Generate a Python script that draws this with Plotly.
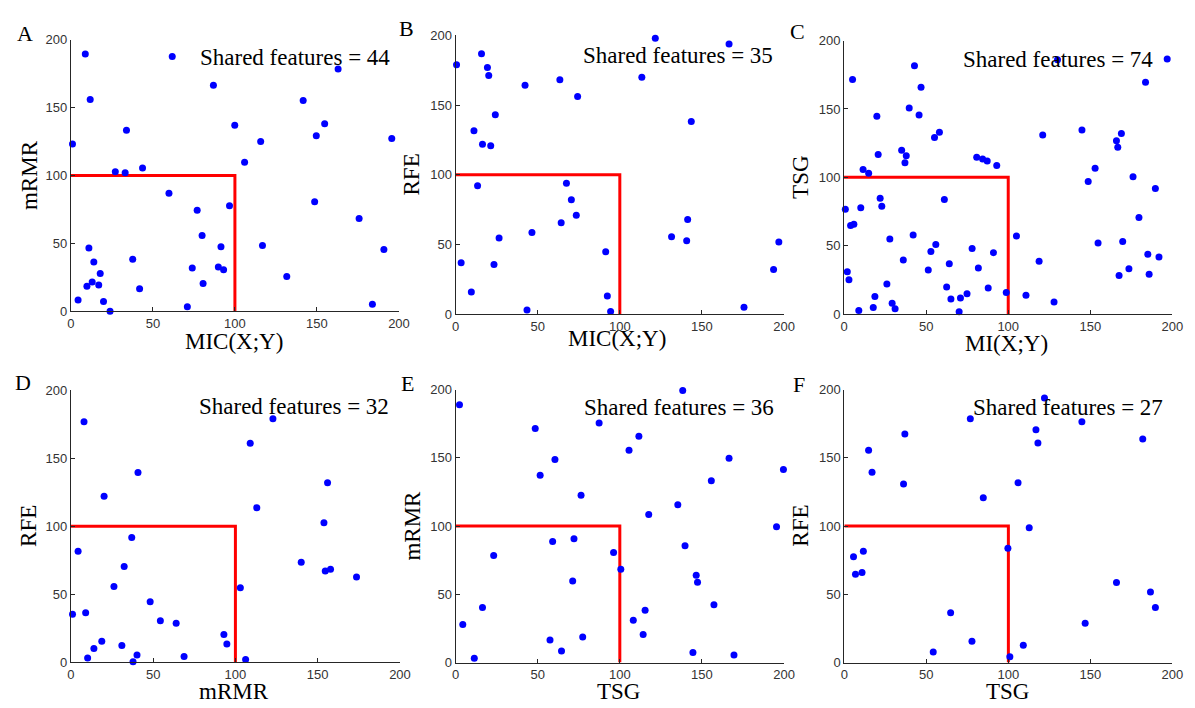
import plotly.graph_objects as go

W, H = 1195, 708

# ---------------- data (feature rank positions) ----------------
# Panel A: MIC(X;Y) vs mRMR
a_x = [8.8, 61.8, 162.9, 11.8, 86.9, 141.6, 154.7, 33.9, 99.9, 149.6, 115.7, 195.6, 1.0, 105.9,
       27.1, 33.1, 43.7, 59.8, 96.7, 77.0, 148.6, 175.7, 80.0, 116.8, 91.5, 11.0, 190.8, 14.0,
       37.7, 17.9, 74.0, 89.9, 93.1, 131.6, 13.0, 9.8, 17.0, 41.9, 80.6, 4.4, 19.9, 23.9, 71.0, 183.8]
a_y = [189.4, 187.5, 178.4, 156.0, 166.4, 155.1, 138.0, 133.3, 136.9, 129.2, 125.1, 127.3, 123.2, 109.7,
       102.8, 102.0, 105.6, 86.9, 77.8, 74.4, 80.7, 68.4, 55.9, 48.5, 47.5, 46.6, 45.6, 36.3,
       38.4, 27.9, 31.9, 32.7, 30.7, 25.7, 21.6, 18.5, 19.4, 16.6, 20.6, 8.4, 7.2, 0.2, 3.4, 5.3]

# Panel B: MIC(X;Y) vs RFE
b_x = [0.6, 15.8, 19.4, 20.2, 121.6, 166.5, 42.3, 63.5, 113.4, 74.3, 24.2, 143.5, 11.2, 16.4,
       21.4, 13.4, 67.5, 70.5, 73.5, 64.3, 141.3, 131.5, 140.7, 196.8, 26.5, 46.5, 91.4, 3.4,
       23.4, 193.6, 9.6, 92.4, 175.6, 43.5, 94.4]
b_y = [178.9, 186.9, 177.0, 171.2, 197.9, 193.9, 164.2, 168.1, 170.0, 156.2, 143.1, 138.2, 131.6, 121.8,
       120.8, 92.0, 93.9, 82.0, 71.0, 65.6, 67.9, 55.5, 52.7, 51.8, 54.6, 58.5, 44.7, 36.8,
       35.6, 31.9, 15.9, 12.9, 4.9, 3.0, 1.9]

# Panel C: MI(X;Y) vs TSG
c_x = [196.8, 130.0, 5.2, 42.9, 46.9, 183.6, 20.0, 39.7, 45.7, 58.1, 55.1, 121.0, 144.9, 168.9,
       165.9, 166.7, 20.8, 35.1, 37.9, 37.1, 80.8, 84.4, 87.2, 93.0, 11.6, 15.0, 152.9, 148.7,
       176.0, 189.6, 0.8, 10.2, 22.0, 23.0, 61.1, 4.0, 6.0, 179.6, 27.9, 42.1, 105.0, 55.9,
       52.9, 154.7, 169.7, 36.1, 78.0, 91.0, 185.0, 191.8, 64.1, 51.3, 81.8, 118.8, 2.0, 3.0,
       26.1, 173.5, 167.5, 185.8, 18.8, 62.5, 87.8, 98.8, 110.8, 65.1, 70.9, 74.9, 29.3, 31.1,
       9.0, 17.8, 70.1, 127.9]
c_y = [186.6, 185.9, 171.6, 181.6, 165.9, 169.5, 144.6, 150.6, 145.6, 132.9, 129.1, 131.0, 134.6, 132.0,
       126.7, 122.0, 116.7, 119.8, 115.8, 110.7, 114.6, 113.4, 111.9, 108.6, 105.7, 103.0, 106.7, 96.9,
       100.5, 91.9, 76.6, 77.8, 84.7, 78.8, 83.8, 64.7, 65.6, 70.6, 54.9, 57.8, 57.0, 50.8,
       45.8, 52.0, 53.0, 39.6, 48.0, 44.9, 43.7, 41.8, 36.8, 32.2, 33.7, 38.7, 31.0, 25.1,
       22.0, 33.2, 28.2, 29.1, 12.9, 19.8, 19.1, 15.8, 13.8, 11.0, 11.7, 14.8, 7.9, 3.8,
       2.6, 4.8, 1.7, 8.8]

# Panel D: mRMR vs RFE
d_x = [8.0, 122.8, 109.0, 40.8, 156.0, 20.2, 113.0, 153.8, 37.0, 4.4, 32.4, 140.0, 154.6, 157.8,
       173.6, 26.2, 103.0, 48.2, 1.0, 9.0, 54.4, 64.0, 93.0, 94.8, 18.8, 31.0, 14.0, 10.2,
       40.2, 37.8, 68.8, 106.2]
d_y = [177.0, 179.1, 161.1, 139.5, 132.0, 122.0, 113.6, 102.5, 91.7, 81.6, 70.3, 73.5, 67.0, 68.4,
       62.7, 55.7, 54.7, 44.4, 35.3, 36.3, 30.5, 28.6, 20.4, 13.4, 15.4, 12.2, 10.1, 3.1,
       5.3, 0.2, 4.1, 1.9]

# Panel E: TSG vs mRMR
e_x = [2.4, 138.3, 48.5, 87.4, 111.6, 105.6, 60.5, 166.5, 51.5, 155.7, 199.6, 76.4, 135.3, 117.6,
       195.4, 59.1, 72.1, 96.2, 100.6, 139.7, 23.2, 71.3, 146.5, 147.3, 16.4, 157.3, 115.4, 4.4,
       108.2, 114.2, 57.5, 77.4, 64.5, 11.4, 144.5, 169.5]
e_y = [189.0, 199.5, 171.5, 175.6, 165.8, 155.7, 148.8, 149.8, 137.3, 133.3, 141.6, 122.7, 115.6, 108.6,
       99.5, 88.8, 90.7, 80.6, 68.4, 85.6, 78.5, 59.8, 63.9, 58.9, 40.4, 42.3, 38.3, 27.8,
       30.9, 20.6, 16.5, 18.7, 8.4, 3.1, 7.4, 5.5]

# Panel F: TSG vs RFE
f_x = [122.0, 76.8, 144.8, 116.8, 118.0, 181.9, 36.9, 14.8, 16.9, 36.1, 105.9, 84.7, 112.7, 99.7,
       5.6, 11.6, 6.8, 10.8, 165.9, 186.6, 189.6, 64.8, 146.8, 77.8, 109.1, 54.2, 100.9]
f_y = [194.0, 178.7, 176.6, 170.6, 161.0, 163.9, 167.5, 155.7, 139.5, 130.9, 131.8, 120.8, 98.8, 83.7,
       77.5, 81.6, 64.8, 66.0, 58.6, 51.7, 40.4, 36.4, 28.7, 15.6, 12.7, 7.7, 4.3]

panel_letters = ["A", "B", "C", "D", "E", "F"]
x_labels = ["MIC(X;Y)", "MIC(X;Y)", "MI(X;Y)", "mRMR", "TSG", "TSG"]
y_labels = ["mRMR", "RFE", "TSG", "RFE", "mRMR", "RFE"]
shared_counts = [44, 35, 74, 32, 36, 27]
threshold = 100
axis_max = 200
tick_values = [0, 50, 100, 150, 200]

xs = [a_x, b_x, c_x, d_x, e_x, f_x]
ys = [a_y, b_y, c_y, d_y, e_y, f_y]

# ---------------- layout geometry (pixels) ----------------
# plot box: (x0, x1, ytop, ybottom)
boxes = [
    (67.7, 400.0, 33.3, 311.0),
    (457.3, 790.0, 29.0, 313.7),
    (850.7, 1183.3, 34.3, 313.7),
    (67.7, 401.0, 391.7, 669.3),
    (457.3, 790.0, 391.0, 669.7),
    (851.0, 1183.3, 391.0, 669.7),
]
letter_pos = [(21.3, 26.7), (407.5, 21.7), (803.7, 25.5), (19.0, 384.0), (408.3, 384.7), (805.0, 386.0)]
ytitle_pos = [(26.0, 172.0), (412.3, 171.0), (806.7, 174.0), (25.0, 530.5), (414.0, 530.0), (807.0, 530.0)]
xtitle_pos = [(232.7, 341.7), (621.0, 338.3), (1015.0, 343.3), (232.7, 699.0), (622.0, 699.0), (1016.0, 699.0)]
shared_pos = [(392.7, 51.7), (781.0, 49.3), (1166.0, 53.3), (392.0, 407.7), (781.7, 409.3), (1175.7, 409.3)]


def px(x):
    return x / W


def py(y):
    return 1 - y / H


serif = "Liberation Serif, Times New Roman, serif"
sans = "Liberation Sans, Arial, sans-serif"
axis_col = "#262626"

fig = go.Figure()
layout = dict(
    width=W, height=H,
    margin=dict(l=0, r=0, t=0, b=0),
    paper_bgcolor="white", plot_bgcolor="white",
    showlegend=False,
)
annotations = []

for i in range(6):
    n = "" if i == 0 else str(i + 1)
    xa, ya = "x" + n, "y" + n
    x0, x1, yt, yb = boxes[i]
    axis_common = dict(
        range=[0, axis_max], tickvals=tick_values, ticks="inside", ticklen=4,
        tickcolor=axis_col, showline=True, linecolor=axis_col, linewidth=1,
        showgrid=False, zeroline=False, mirror=False,
        tickfont=dict(family=sans, size=13, color="#333333"),
    )
    layout["xaxis" + n] = dict(axis_common, domain=[px(x0), px(x1)], anchor=ya)
    layout["yaxis" + n] = dict(axis_common, domain=[py(yb), py(yt)], anchor=xa)

    fig.add_trace(go.Scatter(
        x=[0, threshold, threshold], y=[threshold, threshold, 0],
        mode="lines", line=dict(color="#FF0000", width=3),
        xaxis=xa, yaxis=ya, hoverinfo="skip", cliponaxis=False,
    ))
    fig.add_trace(go.Scatter(
        x=xs[i], y=ys[i], mode="markers",
        marker=dict(color="#0000FF", size=7, line=dict(width=0)),
        xaxis=xa, yaxis=ya, cliponaxis=False,
    ))

    lx, ly = letter_pos[i]
    annotations.append(dict(text=panel_letters[i], x=px(lx), y=py(ly), xref="paper", yref="paper",
                            xanchor="center", yanchor="middle", showarrow=False,
                            font=dict(family=serif, size=22, color="black")))
    tx, ty = ytitle_pos[i]
    annotations.append(dict(text=y_labels[i], x=px(tx), y=py(ty), xref="paper", yref="paper",
                            xanchor="center", yanchor="middle", showarrow=False, textangle=-90,
                            font=dict(family=serif, size=23, color="black")))
    tx, ty = xtitle_pos[i]
    annotations.append(dict(text=x_labels[i], x=px(tx), y=py(ty), xref="paper", yref="paper",
                            xanchor="center", yanchor="middle", showarrow=False,
                            font=dict(family=serif, size=23, color="black")))
    sx, sy = shared_pos[i]
    annotations.append(dict(text="Shared features = %d" % shared_counts[i], x=px(sx), y=py(sy),
                            xref="paper", yref="paper", xanchor="right", yanchor="middle",
                            showarrow=False, font=dict(family=serif, size=23, color="black")))

layout["annotations"] = annotations
fig.update_layout(**layout)
fig.write_html(
    "out.html",
    config={"displayModeBar": False},
    post_script="document.body.style.margin='0';document.body.style.overflow='hidden';",
)
